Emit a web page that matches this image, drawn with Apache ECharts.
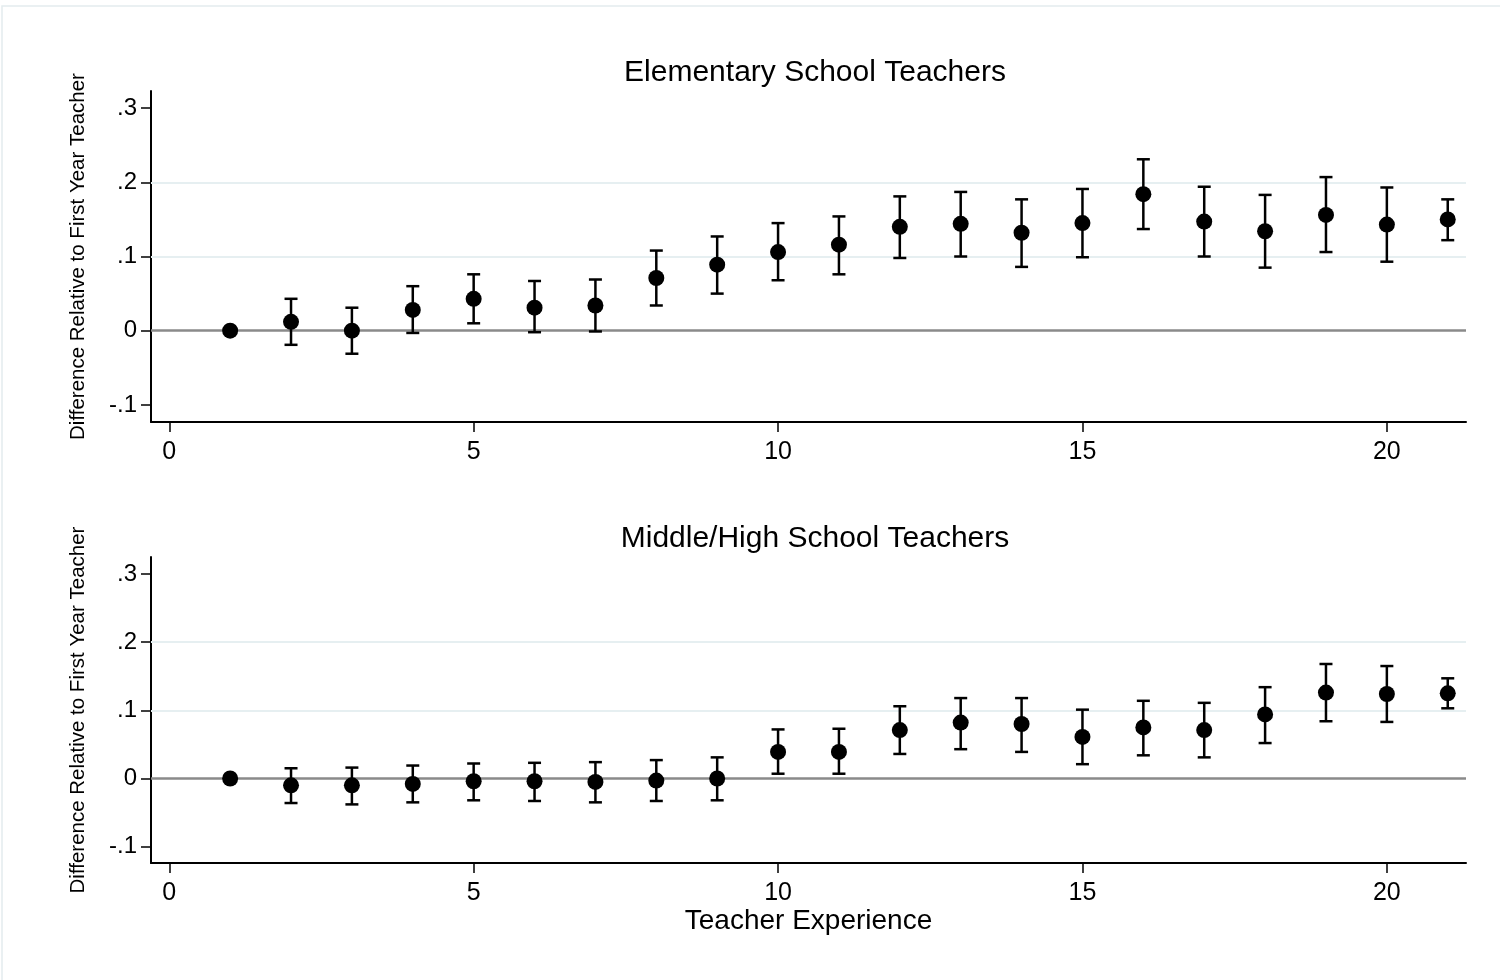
<!DOCTYPE html>
<html>
<head>
<meta charset="utf-8">
<title>Teacher Experience</title>
<script src="https://cdn.jsdelivr.net/npm/echarts@6/dist/echarts.min.js"></script>
<style>
  html, body { margin: 0; padding: 0; background: #fff; }
  #chart { width: 1500px; height: 980px; }
</style>
</head>
<body>
<div id="chart"></div>
<script>
var experience = [1, 2, 3, 4, 5, 6, 7, 8, 9, 10, 11, 12, 13, 14, 15, 16, 17, 18, 19, 20, 21];

// elementary school teachers: estimate and 95% CI
var elemEst = [0, 0.012, 0.000, 0.028, 0.043, 0.031, 0.034, 0.071, 0.089, 0.106, 0.116, 0.140, 0.144, 0.132, 0.145, 0.184, 0.147, 0.134, 0.156, 0.143, 0.150];
var elemLo  = [0, -0.019, -0.031, -0.003, 0.010, -0.002, -0.001, 0.034, 0.050, 0.068, 0.076, 0.098, 0.100, 0.086, 0.099, 0.137, 0.100, 0.085, 0.106, 0.093, 0.122];
var elemHi  = [0, 0.043, 0.031, 0.060, 0.076, 0.067, 0.069, 0.108, 0.127, 0.145, 0.154, 0.181, 0.187, 0.177, 0.191, 0.231, 0.194, 0.183, 0.207, 0.193, 0.177];

// middle/high school teachers
var midEst = [0, -0.010, -0.010, -0.008, -0.004, -0.004, -0.005, -0.003, 0.000, 0.039, 0.039, 0.071, 0.082, 0.080, 0.061, 0.075, 0.071, 0.094, 0.126, 0.124, 0.125];
var midLo  = [0, -0.036, -0.038, -0.035, -0.032, -0.033, -0.035, -0.033, -0.032, 0.007, 0.007, 0.036, 0.043, 0.039, 0.021, 0.034, 0.031, 0.052, 0.084, 0.083, 0.103];
var midHi  = [0, 0.015, 0.016, 0.019, 0.022, 0.023, 0.024, 0.027, 0.031, 0.072, 0.073, 0.106, 0.118, 0.118, 0.101, 0.114, 0.111, 0.134, 0.168, 0.165, 0.147];

var yTicks = [-0.1, 0, 0.1, 0.2, 0.3];
var yTickLabels = ['-.1', '0', '.1', '.2', '.3'];
var xTicks = [0, 5, 10, 15, 20];
var gridValues = [0.1, 0.2];
var panelTitles = ['Elementary School Teachers', 'Middle/High School Teachers'];

var font = '"Liberation Sans", Arial, sans-serif';

function yLabel(v) {
  for (var i = 0; i < yTicks.length; i++) {
    if (Math.abs(yTicks[i] - v) < 1e-9) return yTickLabels[i];
  }
  return '';
}

function points(est) {
  return experience.map(function (x, i) { return [x, est[i]]; });
}
function bars(lo, hi) {
  return experience.map(function (x, i) { return [x, lo[i], hi[i]]; });
}

function errorBars(params, api) {
  var x = api.value(0), lo = api.value(1), hi = api.value(2);
  if (lo === hi) return;
  var top = api.coord([x, hi]);
  var bot = api.coord([x, lo]);
  var half = 6.5;
  var st = { stroke: '#000', lineWidth: 2.5 };
  return {
    type: 'group',
    children: [
      { type: 'line', shape: { x1: top[0], y1: top[1], x2: bot[0], y2: bot[1] }, style: st },
      { type: 'line', shape: { x1: top[0] - half, y1: top[1], x2: top[0] + half, y2: top[1] }, style: st },
      { type: 'line', shape: { x1: bot[0] - half, y1: bot[1], x2: bot[0] + half, y2: bot[1] }, style: st }
    ]
  };
}

var refLines = gridValues.map(function (v) {
  return { yAxis: v, lineStyle: { color: '#e6eff1', width: 2, type: 'solid' } };
}).concat([{ yAxis: 0, lineStyle: { color: '#8a8a8a', width: 2.5, type: 'solid' } }]);

function xAxis(idx, withName) {
  return {
    type: 'value', gridIndex: idx, min: -0.3, max: 21.3,
    name: withName ? 'Teacher Experience' : '',
    nameLocation: 'middle', nameGap: 44,
    nameTextStyle: { fontFamily: font, fontSize: 28, color: '#000' },
    splitLine: { show: false },
    axisLine: { onZero: false, lineStyle: { color: '#000', width: 2 } },
    axisTick: { customValues: xTicks, length: 10, lineStyle: { color: '#000', width: 1.5 } },
    axisLabel: { customValues: xTicks, margin: 18, fontFamily: font, fontSize: 25, color: '#000' }
  };
}

function yAxis(idx, min, max) {
  return {
    type: 'value', gridIndex: idx, min: min, max: max,
    name: 'Difference Relative to First Year Teacher',
    nameLocation: 'middle', nameGap: 62, nameRotate: 90,
    nameTextStyle: { fontFamily: font, fontSize: 20.5, color: '#000' },
    splitLine: { show: false },
    axisLine: { onZero: false, lineStyle: { color: '#000', width: 2 } },
    axisTick: { customValues: yTicks, length: 10, lineStyle: { color: '#000', width: 1.5 } },
    axisLabel: { customValues: yTicks, margin: 14, fontFamily: font, fontSize: 24, color: '#000', formatter: yLabel }
  };
}

function panelSeries(idx, est, lo, hi) {
  return [
    {
      type: 'scatter', xAxisIndex: idx, yAxisIndex: idx,
      data: points(est), symbol: 'circle', symbolSize: 16,
      itemStyle: { color: '#000', opacity: 1 }, z: 5,
      markLine: { silent: true, symbol: 'none', label: { show: false }, data: refLines, z: 1, animation: false }
    },
    {
      type: 'custom', xAxisIndex: idx, yAxisIndex: idx,
      data: bars(lo, hi), renderItem: errorBars, z: 4,
      encode: { x: 0, y: [1, 2] }
    }
  ];
}

var chart = echarts.init(document.getElementById('chart'));
chart.setOption({
  animation: false,
  backgroundColor: '#fff',
  textStyle: { fontFamily: font },
  graphic: [
    { type: 'rect', shape: { x: 2, y: 6, width: 1510, height: 990 }, style: { fill: 'none', stroke: '#e4ecee', lineWidth: 1.5 }, silent: true },
    { type: 'text', x: 815, y: 73, style: { text: panelTitles[0], align: 'center', verticalAlign: 'middle', fontFamily: font, fontSize: 30, fill: '#000' } },
    { type: 'text', x: 815, y: 539, style: { text: panelTitles[1], align: 'center', verticalAlign: 'middle', fontFamily: font, fontSize: 30, fill: '#000' } }
  ],
  grid: [
    { left: 151, top: 91, width: 1315, height: 331 },
    { left: 151, top: 557, width: 1315, height: 306 }
  ],
  xAxis: [xAxis(0, false), xAxis(1, true)],
  yAxis: [yAxis(0, -0.123, 0.323), yAxis(1, -0.124, 0.325)],
  series: panelSeries(0, elemEst, elemLo, elemHi).concat(panelSeries(1, midEst, midLo, midHi))
});
</script>
</body>
</html>
